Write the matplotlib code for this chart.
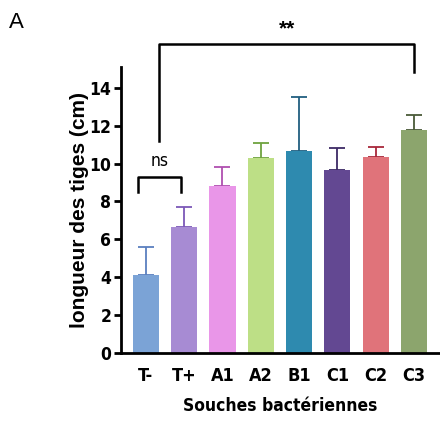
import matplotlib.pyplot as plt
from matplotlib import font_manager

souches = ['T-', 'T+', 'A1', 'A2', 'B1', 'C1', 'C2', 'C3']
longueur = [4.13, 6.66, 8.82, 10.31, 10.66, 9.66, 10.35, 11.80]
erreur = [1.46, 1.03, 1.02, 0.77, 2.88, 1.14, 0.54, 0.79]
couleurs = ['#7ba3d6', '#a78bd3', '#e996e8', '#bddf86',
            '#2e8aaf', '#634892', '#e0737a', '#8ca56d']
couleurs_err = ['#5a7fbf', '#7c58b8', '#b04fb0', '#6ea33f',
                '#215f80', '#3d2a66', '#a8283a', '#4a5a38']
yticks = [0, 2, 4, 6, 8, 10, 12, 14]

names = {f.name for f in font_manager.fontManager.ttflist}
if 'Liberation Sans Narrow' in names:
    narrow = dict(family='Liberation Sans Narrow')
else:
    narrow = dict(family='DejaVu Sans', stretch='condensed')

fig = plt.figure(figsize=(4.4, 4.25), dpi=100)
ax = fig.add_axes([121 / 440, 72 / 425, 319 / 440, 286 / 425])

for i, (v, e, c, ce) in enumerate(zip(longueur, erreur, couleurs, couleurs_err)):
    ax.bar(i, v, width=0.68, color=c, zorder=2)
    ax.errorbar(i, v, yerr=[[0], [e]], fmt='none', ecolor=ce,
                elinewidth=1.3, capsize=6, capthick=1.3, zorder=1)

ax.set_xlim(-0.65, 7.68)
ax.set_ylim(0, 15.1)
ax.set_yticks(yticks)
ax.set_xticks(range(len(souches)))
ax.set_xticklabels(souches)
for s in ['top', 'right']:
    ax.spines[s].set_visible(False)
for s in ['left', 'bottom']:
    ax.spines[s].set_linewidth(2)
ax.tick_params(axis='y', width=2, length=5, pad=2)
ax.tick_params(axis='x', length=0, pad=10)
for lab in ax.get_yticklabels():
    lab.set(fontweight='bold', fontsize=12.5, **narrow)
for lab in ax.get_xticklabels():
    lab.set(fontweight='bold', fontsize=13, **narrow)

ax.set_ylabel('longueur des tiges (cm)', fontfamily='Liberation Sans',
              fontweight='bold', fontsize=15, labelpad=0)
ax.set_xlabel('Souches bactériennes', fontweight='bold', fontsize=12.5,
              labelpad=9, **narrow)

# ns bracket
ax.plot([-0.21, -0.21, 0.91, 0.91], [8.48, 9.27, 9.27, 8.48],
        color='black', lw=1.8, clip_on=False)
ax.text(0.35, 10.15, 'ns', ha='center', va='center', fontsize=12.5, **narrow)

# ** bracket
ax.plot([0.34, 0.34, 7.0, 7.0], [11.17, 16.33, 16.33, 14.86],
        color='black', lw=1.8, clip_on=False)
ax.text(3.68, 17.1, '**', ha='center', va='center', fontsize=15,
        fontweight='bold', fontfamily='Liberation Sans')

fig.text(9 / 440, 1 - 22 / 425, 'A', ha='left', va='center', fontsize=16,
         fontfamily='Liberation Sans')

fig.savefig('out.png', dpi=100)
